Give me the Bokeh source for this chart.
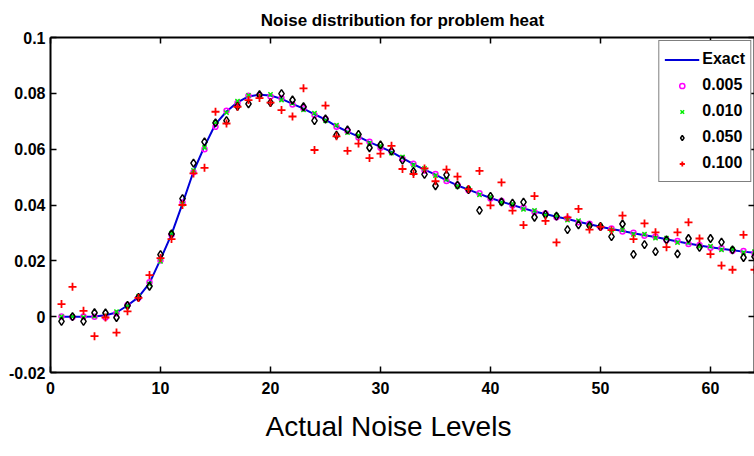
from bokeh.plotting import figure
from bokeh.models import LinearAxis, FixedTicker, CustomJSTickFormatter, Range1d, Title
from bokeh.embed import file_html
from bokeh.resources import INLINE

# ---------------- data ----------------
x_idx = list(range(1, 65))

exact = [0.0000, 0.0000, 0.0000, 0.0001, 0.0005, 0.0015, 0.0040, 0.0070, 0.0120, 0.0205,
         0.0295, 0.0405, 0.0520, 0.0610, 0.0690, 0.0735, 0.0768, 0.0789, 0.0795, 0.0792,
         0.0780, 0.0762, 0.0745, 0.0725, 0.0706, 0.0682, 0.0663, 0.0645, 0.0625, 0.0608,
         0.0590, 0.0568, 0.0546, 0.0527, 0.0509, 0.0488, 0.0470, 0.0455, 0.0440, 0.0425,
         0.0412, 0.0400, 0.0388, 0.0377, 0.0368, 0.0358, 0.0350, 0.0340, 0.0331, 0.0322,
         0.0314, 0.0307, 0.0299, 0.0292, 0.0285, 0.0277, 0.0269, 0.0262, 0.0255, 0.0249,
         0.0243, 0.0238, 0.0233, 0.0229]

noise_005 = [0.0001, -0.0002, 0.0001, 0.0000, -0.0003, 0.0012, 0.0042, 0.0068, 0.0123, 0.0201,
             0.0293, 0.0409, 0.0517, 0.0600, 0.0680, 0.0738, 0.0765, 0.0791, 0.0793, 0.0789,
             0.0782, 0.0760, 0.0747, 0.0722, 0.0708, 0.0680, 0.0665, 0.0642, 0.0627, 0.0605,
             0.0592, 0.0566, 0.0548, 0.0524, 0.0511, 0.0486, 0.0472, 0.0453, 0.0442, 0.0423,
             0.0414, 0.0398, 0.0390, 0.0375, 0.0370, 0.0356, 0.0352, 0.0338, 0.0333, 0.0320,
             0.0316, 0.0305, 0.0301, 0.0290, 0.0287, 0.0275, 0.0271, 0.0260, 0.0257, 0.0247,
             0.0245, 0.0236, 0.0235, 0.0227]

noise_010 = [0.0000, 0.0001, -0.0003, 0.0002, 0.0004, 0.0018, 0.0037, 0.0073, 0.0117, 0.0198,
             0.0299, 0.0403, 0.0524, 0.0606, 0.0695, 0.0731, 0.0772, 0.0793, 0.0791, 0.0796,
             0.0776, 0.0765, 0.0741, 0.0729, 0.0702, 0.0686, 0.0659, 0.0649, 0.0621, 0.0612,
             0.0586, 0.0572, 0.0543, 0.0531, 0.0505, 0.0492, 0.0467, 0.0459, 0.0436, 0.0429,
             0.0408, 0.0404, 0.0384, 0.0381, 0.0364, 0.0362, 0.0346, 0.0344, 0.0327, 0.0325,
             0.0310, 0.0311, 0.0295, 0.0296, 0.0281, 0.0281, 0.0265, 0.0266, 0.0251, 0.0253,
             0.0239, 0.0242, 0.0229, 0.0233]

noise_050 = [-0.0017, 0.0000, -0.0017, 0.0014, 0.0013, -0.0003, 0.0040, 0.0069, 0.0109, 0.0222,
             0.0296, 0.0423, 0.0550, 0.0626, 0.0694, 0.0702, 0.0753, 0.0762, 0.0795, 0.0767,
             0.0799, 0.0776, 0.0752, 0.0702, 0.0708, 0.0650, 0.0669, 0.0653, 0.0605, 0.0615,
             0.0593, 0.0561, 0.0520, 0.0510, 0.0469, 0.0508, 0.0471, 0.0455, 0.0381, 0.0431,
             0.0411, 0.0407, 0.0410, 0.0356, 0.0366, 0.0360, 0.0312, 0.0329, 0.0326, 0.0323,
             0.0287, 0.0332, 0.0223, 0.0258, 0.0233, 0.0275, 0.0225, 0.0280, 0.0248, 0.0280,
             0.0267, 0.0239, 0.0212, 0.0215]

noise_100 = [0.0045, 0.0107, 0.0021, -0.0070, -0.0003, -0.0057, 0.0019, 0.0067, 0.0149, 0.0210,
             0.0278, 0.0400, 0.0513, 0.0533, 0.0734, 0.0692, 0.0752, 0.0776, 0.0783, 0.0767,
             0.0740, 0.0717, 0.0818, 0.0597, 0.0756, 0.0646, 0.0594, 0.0620, 0.0568, 0.0584,
             0.0612, 0.0529, 0.0511, 0.0531, 0.0485, 0.0527, 0.0502, 0.0457, 0.0522, 0.0399,
             0.0481, 0.0380, 0.0328, 0.0432, 0.0343, 0.0266, 0.0356, 0.0386, 0.0312, 0.0322,
             0.0310, 0.0362, 0.0278, 0.0334, 0.0302, 0.0249, 0.0302, 0.0338, 0.0280, 0.0224,
             0.0183, 0.0168, 0.0293, 0.0168]

x_ticks = [0, 10, 20, 30, 40, 50, 60]
y_ticks = [-0.02, 0.0, 0.02, 0.04, 0.06, 0.08, 0.1]

title_text = "Noise distribution for problem heat"
xlabel_text = "Actual Noise Levels"
legend_labels = ["Exact", "0.005", "0.010", "0.050", "0.100"]

FONT = "Liberation Sans"

# ---------------- figure ----------------
p = figure(width=754, height=456, output_backend="svg", toolbar_location=None,
           x_range=Range1d(0, 64), y_range=Range1d(-0.02, 0.1),
           min_border_left=50, min_border_right=0, min_border_top=37, min_border_bottom=84)

p.title.text = title_text
p.title.align = "center"
p.title.text_font = FONT
p.title.text_font_size = "17px"
p.title.text_font_style = "bold"
p.title.text_color = "black"
p.title.standoff = 15

p.grid.visible = False
p.outline_line_color = None
p.background_fill_color = "white"
p.border_fill_color = "white"

fmt = CustomJSTickFormatter(code="return String(Math.round(tick*100)/100);")
blank = CustomJSTickFormatter(code="return '';")

for ax in p.xaxis:
    ax.ticker = FixedTicker(ticks=x_ticks)
for ax in p.yaxis:
    ax.ticker = FixedTicker(ticks=y_ticks)
    ax.formatter = fmt

for ax in list(p.xaxis) + list(p.yaxis):
    ax.axis_line_width = 2
    ax.axis_line_color = "black"
    ax.major_tick_line_width = 1.5
    ax.major_tick_line_color = "black"
    ax.major_tick_out = 0
    ax.major_tick_in = 6
    ax.minor_tick_line_color = None
    ax.major_label_text_font = FONT
    ax.major_label_text_font_style = "bold"
    ax.major_label_text_font_size = "16px"
    ax.major_label_text_color = "black"

p.xaxis.major_label_standoff = 9
p.yaxis.major_label_standoff = 5

top_ax = LinearAxis(ticker=FixedTicker(ticks=x_ticks), formatter=blank,
                    major_label_text_font_size="1px",
                    major_label_standoff=0, major_tick_out=0, major_tick_in=6,
                    axis_line_width=2, major_tick_line_width=1.5, minor_tick_line_color=None)
right_ax = LinearAxis(ticker=FixedTicker(ticks=y_ticks), formatter=blank,
                      major_label_text_font_size="1px",
                      major_label_standoff=0, major_tick_out=0, major_tick_in=6,
                      axis_line_width=2, major_tick_line_width=1.5, minor_tick_line_color=None)
p.add_layout(top_ax, "above")
p.add_layout(right_ax, "right")

# x label as a below title so that it can be shifted horizontally
p.add_layout(Title(text=xlabel_text, align="left", offset=215, standoff=24,
                   text_font=FONT, text_font_style="normal", text_font_size="28px",
                   text_color="black"), "below")

# ---------------- glyphs ----------------
p.line(x_idx, exact, line_color="#0000d8", line_width=2, legend_label=legend_labels[0])
p.scatter(x_idx, noise_005, marker="circle", size=5, fill_color=None,
          line_color="#ff00ff", line_width=1.5, legend_label=legend_labels[1])
p.scatter(x_idx, noise_010, marker="x", size=6,
          line_color="#00ee00", line_width=1.5, legend_label=legend_labels[2])
p.scatter(x_idx, noise_050, marker="diamond", size=8, fill_color=None,
          line_color="black", line_width=1.5, legend_label=legend_labels[3])
p.scatter(x_idx, noise_100, marker="cross", size=8,
          line_color="#ff0000", line_width=1.8, legend_label=legend_labels[4])

# ---------------- legend ----------------
lg = p.legend[0]
lg.location = "top_right"
lg.margin = 3
lg.padding = 5
lg.spacing = 0
lg.glyph_width = 35
lg.glyph_height = 13
lg.label_height = 26
lg.label_standoff = 3
lg.label_text_font = FONT
lg.label_text_font_style = "bold"
lg.label_text_font_size = "16px"
lg.label_text_color = "black"
lg.border_line_color = "black"
lg.border_line_width = 1
lg.background_fill_color = "white"
lg.background_fill_alpha = 1.0

open("out.html", "w").write(file_html(p, INLINE))
